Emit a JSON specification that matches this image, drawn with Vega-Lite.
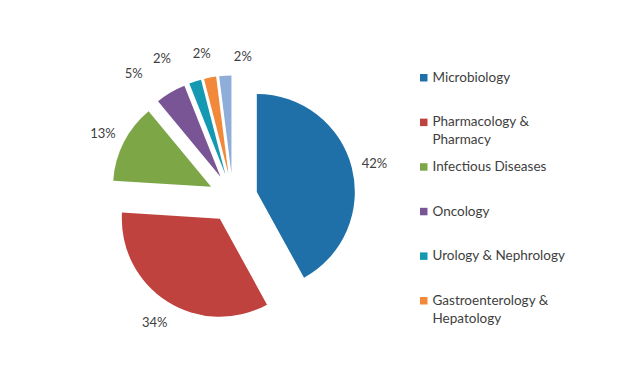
{
  "$schema": "https://vega.github.io/schema/vega-lite/v6.json",
  "width": 466,
  "height": 388,
  "autosize": {"type": "none"},
  "padding": {"left": 0, "top": 4, "right": 178, "bottom": 0},
  "background": "white",
  "config": {"view": {"stroke": null}},
  "data": {
    "values": [
      {"category": "Microbiology", "share": 0.42},
      {"category": "Pharmacology & Pharmacy", "share": 0.34},
      {"category": "Infectious Diseases", "share": 0.13},
      {"category": "Oncology", "share": 0.05},
      {"category": "Urology & Nephrology", "share": 0.02},
      {"category": "Gastroenterology & Hepatology", "share": 0.02},
      {"category": "Others", "share": 0.02}
    ]
  },
  "encoding": {
    "theta": {"field": "share", "type": "quantitative", "stack": true},
    "order": {"field": "share", "sort": "descending"}
  },
  "layer": [
    {
      "mark": {
        "type": "arc",
        "outerRadius": 98,
        "x": {"expr": "width/2 + 24.6*sin(PI*(datum.share_start+datum.share_end))"},
        "y": {"expr": "height/2 - 24.6*cos(PI*(datum.share_start+datum.share_end))"}
      },
      "encoding": {
        "color": {
          "field": "category",
          "type": "nominal",
          "sort": ["Microbiology", "Pharmacology & Pharmacy", "Infectious Diseases", "Oncology", "Urology & Nephrology", "Gastroenterology & Hepatology", "Others"],
          "scale": {
            "domain": ["Microbiology", "Pharmacology & Pharmacy", "Infectious Diseases", "Oncology", "Urology & Nephrology", "Gastroenterology & Hepatology", "Others"],
            "range": ["#1f6fa8", "#c0423f", "#7da647", "#7a5595", "#1599b2", "#f2883a", "#8fadd9"]
          },
          "legend": {
            "title": null,
            "orient": "none",
            "legendX": 417,
            "legendY": 67,
            "padding": 0,
            "values": ["Microbiology", "Pharmacology & Pharmacy", "Infectious Diseases", "Oncology", "Urology & Nephrology", "Gastroenterology & Hepatology"],
            "symbolType": "square",
            "symbolSize": 56,
            "symbolStrokeWidth": 0,
            "labelFont": "Lato",
            "labelFontSize": 13.5,
            "labelColor": "#404040",
            "labelOffset": 2,
            "labelLimit": 300,
            "rowPadding": 11.6,
            "gridAlign": "all",
            "labelExpr": "datum.label == 'Pharmacology & Pharmacy' ? ['Pharmacology &', 'Pharmacy'] : datum.label == 'Gastroenterology & Hepatology' ? ['Gastroenterology &', 'Hepatology'] : datum.label",
            "encode": {"labels": {"update": {"lineHeight": {"value": 18}}}}
          }
        }
      }
    },
    {
      "mark": {
        "type": "text",
        "radius": 146,
        "font": "Lato",
        "fontSize": 13,
        "fill": "#404040",
        "dx": {"expr": "datum.category == 'Oncology' ? -25 : datum.category == 'Urology & Nephrology' ? -26 : datum.category == 'Gastroenterology & Hepatology' ? -4 : datum.category == 'Others' ? 19 : 0"},
        "dy": {"expr": "datum.category == 'Oncology' ? 2 : datum.category == 'Urology & Nephrology' ? 0 : datum.category == 'Gastroenterology & Hepatology' ? -1 : datum.category == 'Others' ? 5 : 2"}
      },
      "encoding": {
        "detail": {"field": "category", "type": "nominal"},
        "text": {"field": "share", "type": "quantitative", "format": ".0%"}
      }
    }
  ]
}
